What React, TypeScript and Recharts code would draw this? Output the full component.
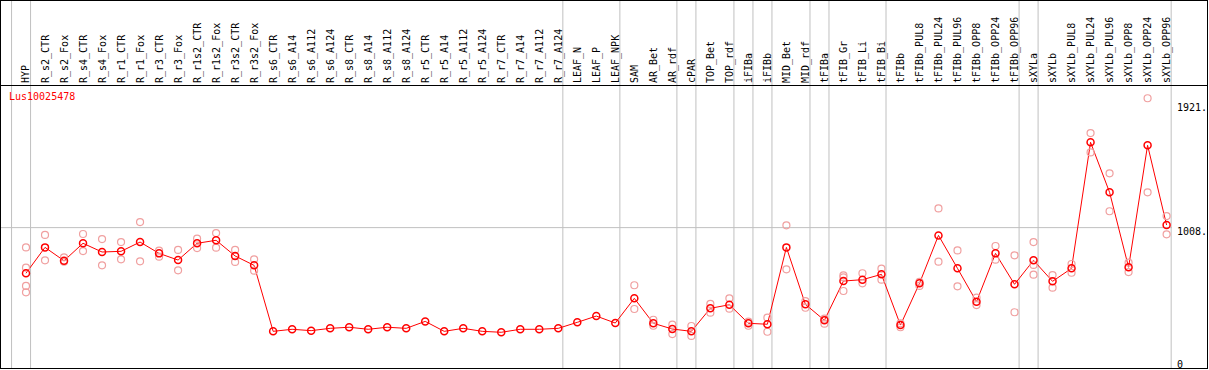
import { ComposedChart, Line, XAxis, YAxis, ReferenceLine } from "recharts"

const categories = [
  "HYP", "R_s2_CTR", "R_s2_Fox", "R_s4_CTR", "R_s4_Fox", "R_r1_CTR", "R_r1_Fox", "R_r3_CTR",
  "R_r3_Fox", "R_r1s2_CTR", "R_r1s2_Fox", "R_r3s2_CTR", "R_r3s2_Fox", "R_s6_CTR", "R_s6_A14",
  "R_s6_A112", "R_s6_A124", "R_s8_CTR", "R_s8_A14", "R_s8_A112", "R_s8_A124", "R_r5_CTR",
  "R_r5_A14", "R_r5_A112", "R_r5_A124", "R_r7_CTR", "R_r7_A14", "R_r7_A112", "R_r7_A124",
  "LEAF_N", "LEAF_P", "LEAF_NPK", "SAM", "AR_Bet", "AR_rdf", "cPAR", "TOP_Bet", "TOP_rdf",
  "iFIBa", "iFIBb", "MID_Bet", "MID_rdf", "tFIBa", "tFIB_Gr", "tFIB_Li", "tFIB_Bi", "tFIBb",
  "tFIBb_PUL8", "tFIBb_PUL24", "tFIBb_PUL96", "tFIBb_OPP8", "tFIBb_OPP24", "tFIBb_OPP96",
  "sXYLa", "sXYLb", "sXYLb_PUL8", "sXYLb_PUL24", "sXYLb_PUL96", "sXYLb_OPP8", "sXYLb_OPP24",
  "sXYLb_OPP96",
]

// mean expression per sample
const means = [
  673, 863, 765, 893, 829, 834, 902, 819, 770, 893, 915, 800, 731, 247, 262,
  252, 269, 277, 262, 277, 269, 320, 247, 269, 247, 240, 262, 262, 269,
  313, 359, 308, 489, 306, 264, 247, 416, 442, 306, 299, 863, 445, 328, 616, 626, 665, 293,
  599, 951, 709, 464, 819, 592, 768, 614, 709, 1634, 1267, 717, 1612, 1027,
]

// individual replicates
const replicates: number[][] = [
  [863, 714, 580, 533], [954, 768], [790, 758], [961, 836], [924, 731], [902, 775], [1049, 761],
  [839, 795], [844, 695], [927, 858], [968, 861], [844, 756], [775, 692], [], [],
  [], [], [], [], [], [], [], [], [], [], [], [], [], [],
  [], [], [], [585, 411], [332, 288], [296, 227], [286, 213], [448, 384], [489, 413], [318, 288],
  [347, 244], [1025, 702], [469, 420], [340, 303], [658, 643, 543], [673, 599], [707, 626], [306, 277],
  [610, 580], [1149, 758], [841, 577], [494, 440], [873, 773], [805, 387], [902, 734, 663],
  [660, 567], [741, 677], [1702, 1560], [1406, 1128], [751, 682], [1957, 1267], [1093, 959],
]

// index of the last sample in each group (separator drawn after it)
const groupEnds = [-1, 0, 28, 31, 34, 35, 37, 38, 39, 41, 42, 45, 52, 53, 60]

const yTicks = [0, 1008, 1921]
const repKeys = ["rep1", "rep2", "rep3", "rep4"]

const data = categories.map((name, i) => {
  const row: Record<string, any> = { idx: i, name, mean: means[i] }
  repKeys.forEach((k, j) => {
    row[k] = replicates[i][j] ?? null
  })
  return row
})

const FONT = "'DejaVu Sans Mono', monospace"

const catTick = (props: any) => {
  const { x, payload } = props
  return (
    <text
      key={payload.value}
      transform={`translate(${x + 3.5},83) rotate(-90)`}
      fontSize={10}
      fontFamily={FONT}
      fill="#000"
      textAnchor="start"
    >
      {categories[payload.value]}
    </text>
  )
}

const valTick = (props: any) => {
  const { y, payload } = props
  const v = payload.value
  return (
    <text key={v} x={1177} y={y + (v === 0 ? -1 : 4)} dominantBaseline="central" fontSize={10} fontFamily={FONT} fill="#000">
      {v === 0 ? "0" : `${v}.`}
    </text>
  )
}

const meanDot = (props: any) => {
  const { cx, cy, index } = props
  if (cx == null || cy == null) return <g key={index} />
  return <circle key={index} cx={cx} cy={cy} r={3.5} fill="none" stroke="#ff0000" strokeWidth={1.5} />
}

const repDot = (props: any) => {
  const { cx, cy, index, value } = props
  if (cx == null || cy == null || value == null) return <g key={index} />
  return <circle key={index} cx={cx} cy={cy} r={3.5} fill="none" stroke="#f0a0a0" strokeWidth={1.2} />
}

export default function App() {
  return (
    <div style={{ position: "absolute", left: 0, top: 0, width: 1209, height: 370, background: "#fff" }}>
      <ComposedChart width={1209} height={370} data={data} margin={{ top: 0, right: 2, bottom: 2, left: 1 }}>
        <XAxis
          dataKey="idx"
          type="number"
          orientation="top"
          mirror
          domain={[-1.315, 60.284]}
          allowDataOverflow
          ticks={categories.map((_, i) => i)}
          interval={0}
          height={30}
          axisLine={false}
          tickLine={false}
          tick={catTick}
        />
        <YAxis
          orientation="right"
          width={35}
          domain={[-22, 2678]}
          allowDataOverflow
          ticks={yTicks}
          interval={0}
          axisLine={false}
          tickLine={false}
          tick={valTick}
        />
        <ReferenceLine y={1008} stroke="#c0c0c0" strokeWidth={1} />
        {groupEnds.map((k) => (
          <ReferenceLine key={k} x={k + 0.24} stroke="#c0c0c0" strokeWidth={1} />
        ))}
        {repKeys.map((k) => (
          <Line
            key={k}
            dataKey={k}
            stroke="none"
            dot={repDot}
            activeDot={false}
            isAnimationActive={false}
          />
        ))}
        <Line
          dataKey="mean"
          stroke="#ff0000"
          strokeWidth={1}
          dot={meanDot}
          activeDot={false}
          isAnimationActive={false}
        />
      </ComposedChart>
      <div
        style={{
          position: "absolute", left: 0, top: 0, width: 1208, height: 369,
          border: "1px solid #000", boxSizing: "border-box", pointerEvents: "none",
        }}
      />
      <div style={{ position: "absolute", left: 0, top: 85, width: 1208, height: 1, background: "#000" }} />
      <div
        style={{
          position: "absolute", left: 9, top: 92, fontFamily: FONT, fontSize: 10,
          lineHeight: "10px", color: "#ff0000",
        }}
      >
        Lus10025478
      </div>
    </div>
  )
}
